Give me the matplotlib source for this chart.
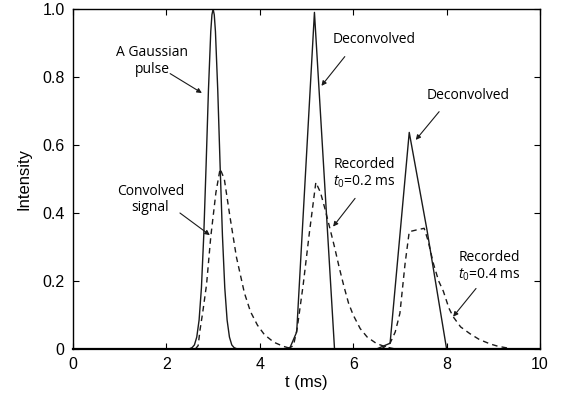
import matplotlib
matplotlib.use('Agg')
import matplotlib.pyplot as plt

# --- data ---
# Gaussian pulse (solid)
gauss_t = [2.5, 2.55, 2.6, 2.65, 2.7, 2.75, 2.8, 2.85, 2.9, 2.95, 2.975, 3.0, 3.025, 3.05,
           3.1, 3.15, 3.2, 3.25, 3.3, 3.35, 3.4, 3.45, 3.5]
gauss_y = [0.001, 0.004, 0.012, 0.035, 0.085, 0.18, 0.334, 0.54, 0.76, 0.934, 0.983, 1.0, 0.983,
           0.934, 0.76, 0.54, 0.334, 0.18, 0.085, 0.035, 0.012, 0.004, 0.001]

# convolved signal (dashed)
conv_t = [2.62, 2.68, 2.72, 2.78, 2.86, 2.95, 3.06, 3.15, 3.24, 3.36, 3.5, 3.67, 3.8, 3.95,
          4.1, 4.3, 4.5, 4.7]
conv_y = [0.0, 0.01, 0.056, 0.11, 0.19, 0.33, 0.46, 0.53, 0.50, 0.39, 0.27, 0.165, 0.11, 0.07,
          0.042, 0.02, 0.008, 0.0]

# deconvolved, t0 = 0.2 ms (solid)
dec1_t = [4.55, 4.65, 4.79, 5.17, 5.60]
dec1_y = [0.0, 0.005, 0.05, 0.99, 0.0]

# recorded, t0 = 0.2 ms (dashed)
rec1_t = [4.6, 4.72, 4.8, 4.93, 5.06, 5.2, 5.3, 5.4, 5.5, 5.6, 5.7, 5.8, 5.9, 6.0, 6.15,
          6.3, 6.5, 6.7, 6.9]
rec1_y = [0.0, 0.01, 0.06, 0.19, 0.34, 0.49, 0.46, 0.41, 0.355, 0.30, 0.24, 0.185, 0.135, 0.10,
          0.06, 0.035, 0.016, 0.006, 0.0]

# deconvolved, t0 = 0.4 ms (solid)
dec2_t = [6.5, 6.79, 7.2, 7.58, 8.0]
dec2_y = [0.0, 0.017, 0.637, 0.35, 0.0]

# recorded, t0 = 0.4 ms (dashed)
rec2_t = [6.6, 6.79, 6.9, 7.0, 7.11, 7.2, 7.35, 7.52, 7.6, 7.72, 7.83, 7.93, 8.05, 8.14,
          8.3, 8.5, 8.7, 8.93, 9.1, 9.3]
rec2_y = [0.0, 0.017, 0.05, 0.105, 0.25, 0.345, 0.35, 0.355, 0.32, 0.25, 0.2, 0.17, 0.12,
          0.095, 0.065, 0.045, 0.028, 0.015, 0.008, 0.003]

x_ticks = [0, 2, 4, 6, 8, 10]
y_ticks = [0, 0.2, 0.4, 0.6, 0.8, 1.0]
y_tick_labels = ['0', '0.2', '0.4', '0.6', '0.8', '1.0']

plt.rcParams['font.family'] = ['Liberation Sans', 'DejaVu Sans']
plt.rcParams['mathtext.fontset'] = 'custom'
plt.rcParams['mathtext.rm'] = 'Open Sans'
plt.rcParams['mathtext.it'] = 'Open Sans:italic'

fig = plt.figure(figsize=(5.64, 3.94), dpi=100)
ax = fig.add_axes([73 / 564, 1 - 349 / 394, 467 / 564, 340 / 394])

ln = dict(color='#1a1a1a', lw=1.0)
ax.plot(gauss_t, gauss_y, '-', **ln)
ax.plot(dec1_t, dec1_y, '-', **ln)
ax.plot(dec2_t, dec2_y, '-', **ln)
ax.plot(conv_t, conv_y, '--', dashes=(4, 3), **ln)
ax.plot(rec1_t, rec1_y, '--', dashes=(4, 3), **ln)
ax.plot(rec2_t, rec2_y, '--', dashes=(4, 3), **ln)

ax.set_xlim(0, 10)
ax.set_ylim(0, 1.0)
ax.set_xticks(x_ticks)
ax.set_yticks(y_ticks)
ax.set_yticklabels(y_tick_labels)
ax.tick_params(direction='in', top=True, right=True, length=4, labelsize=11.5, pad=6)
for s in ax.spines.values():
    s.set_linewidth(1.0)
ax.spines['bottom'].set_linewidth(1.6)

ax.set_xlabel('t (ms)', fontsize=12, labelpad=2)
ax.set_ylabel('Intensity', fontsize=12, labelpad=8)

# annotations
tfont = dict(family='Open Sans', fontsize=10, ha='center', va='center', linespacing=1.1)
arr = dict(arrowstyle='-|>', color='#1a1a1a', lw=0.8, mutation_scale=7, shrinkA=0, shrinkB=0)

ax.text(1.69, 0.847, 'A Gaussian\npulse', **tfont)
ax.annotate('', xy=(2.76, 0.753), xytext=(2.08, 0.81), arrowprops=arr)

ax.text(1.66, 0.44, 'Convolved\nsignal', **tfont)
ax.annotate('', xy=(2.93, 0.335), xytext=(2.29, 0.400), arrowprops=arr)

ax.text(6.45, 0.909, 'Deconvolved', **tfont)
ax.annotate('', xy=(5.32, 0.774), xytext=(5.82, 0.86), arrowprops=arr)

ax.text(8.47, 0.745, 'Deconvolved', **tfont)
ax.annotate('', xy=(7.34, 0.615), xytext=(7.84, 0.698), arrowprops=arr)

ax.text(6.23, 0.516, 'Recorded\n$t_0$=0.2 ms', **tfont)
ax.annotate('', xy=(5.57, 0.36), xytext=(6.04, 0.443), arrowprops=arr)

ax.text(8.92, 0.242, 'Recorded\n$t_0$=0.4 ms', **tfont)
ax.annotate('', xy=(8.14, 0.095), xytext=(8.63, 0.178), arrowprops=arr)

fig.savefig('out.png', dpi=100)
